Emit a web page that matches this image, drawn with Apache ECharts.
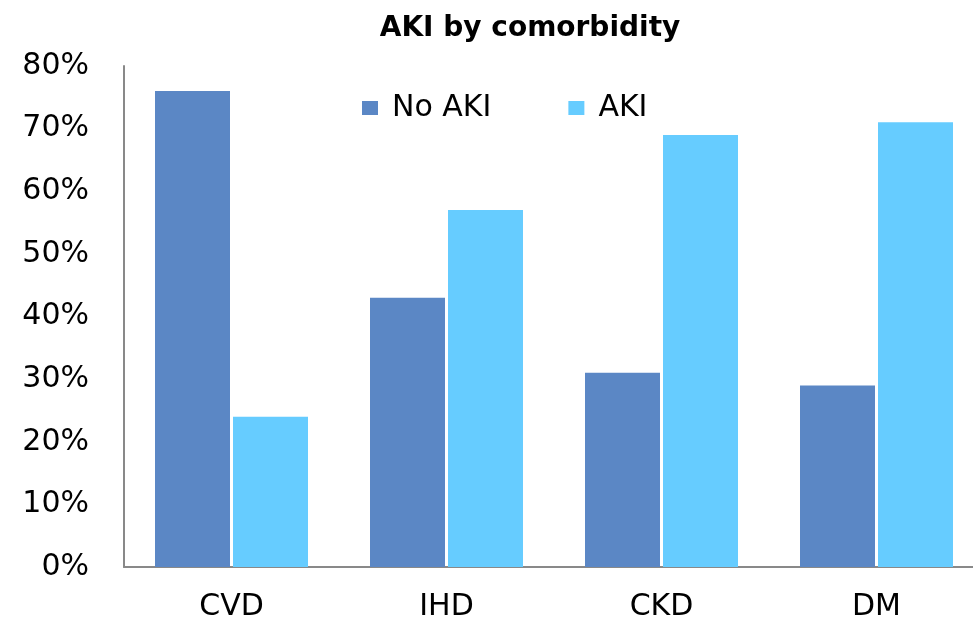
<!DOCTYPE html>
<html>
<head>
<meta charset="utf-8">
<script src="https://cdn.jsdelivr.net/npm/echarts@6/dist/echarts.min.js"></script>
<style>
  html, body { margin: 0; padding: 0; background: #fff; }
  #chart { width: 973px; height: 621px; }
</style>
</head>
<body>
<div id="chart"></div>
<script>
// Share of patients with each comorbidity, split by AKI status
const categories = ['CVD', 'IHD', 'CKD', 'DM'];
const noAki = [76, 43, 31, 29];
const aki = [24, 57, 69, 71];
const yTicks = [0, 10, 20, 30, 40, 50, 60, 70, 80];

const FONT = '"DejaVu Sans", Verdana, sans-serif';

const chart = echarts.init(document.getElementById('chart'), null, { renderer: 'canvas' });
chart.setOption({
  animation: false,
  backgroundColor: '#ffffff',
  title: {
    text: 'AKI by comorbidity',
    left: 525,
    textAlign: 'center',
    top: 10,
    textStyle: { fontFamily: FONT, fontWeight: 'bold', fontSize: 28, color: '#000' }
  },
  legend: {
    data: ['No AKI', 'AKI'],
    left: 357,
    top: 88,
    itemWidth: 16,
    itemHeight: 14,
    itemGap: 77,
    icon: 'rect',
    textStyle: { fontFamily: FONT, fontSize: 30, color: '#000', padding: [0, 0, 0, 9] }
  },
  grid: { left: 124, top: 66, width: 860, height: 501, containLabel: false, outerBoundsMode: 'none' },
  xAxis: {
    type: 'category',
    data: categories,
    axisLine: { lineStyle: { color: '#898989', width: 2 } },
    axisTick: { show: false },
    axisLabel: { fontFamily: FONT, fontSize: 30, color: '#000', margin: 25 }
  },
  yAxis: {
    type: 'value',
    min: yTicks[0],
    max: yTicks[yTicks.length - 1],
    interval: 10,
    splitLine: { show: false },
    axisLine: { show: true, lineStyle: { color: '#898989', width: 2 } },
    axisTick: { show: false },
    axisLabel: { fontFamily: FONT, fontSize: 30, color: '#000', margin: 35, formatter: '{value}%' }
  },
  series: [
    {
      name: 'No AKI',
      type: 'bar',
      data: noAki,
      barWidth: 75,
      barGap: '4%',
      itemStyle: { color: '#5B87C5' }
    },
    {
      name: 'AKI',
      type: 'bar',
      data: aki,
      barWidth: 75,
      barGap: '4%',
      itemStyle: { color: '#66CCFF' }
    }
  ]
});
</script>
</body>
</html>
